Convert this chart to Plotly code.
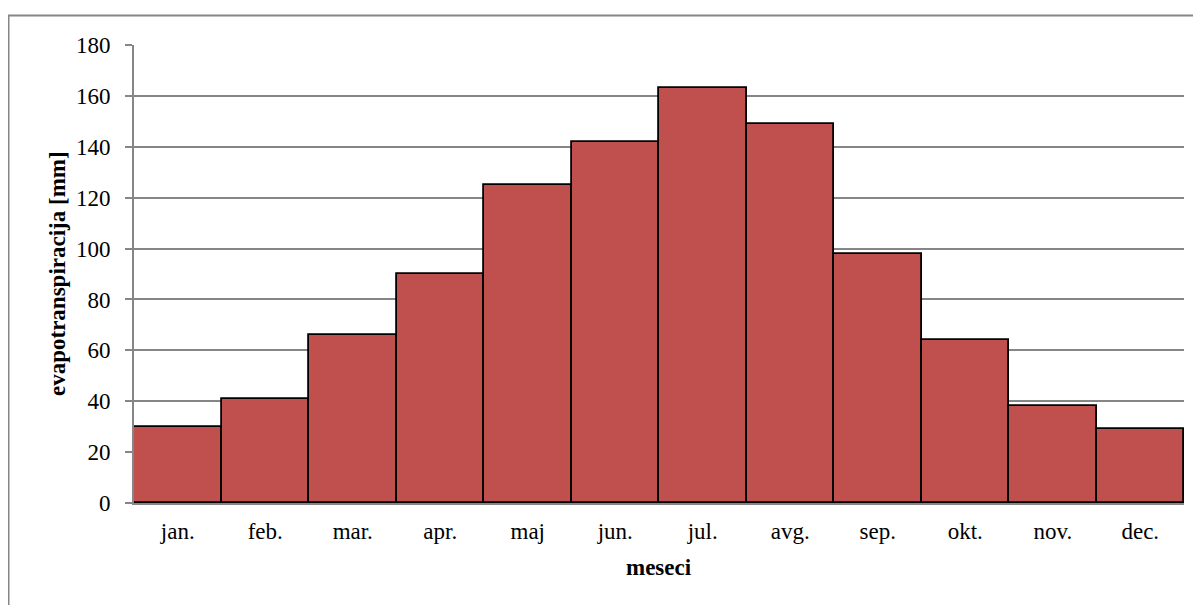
import plotly.graph_objects as go

months = ["jan.", "feb.", "mar.", "apr.", "maj", "jun.", "jul.", "avg.", "sep.", "okt.", "nov.", "dec."]
evapotranspiracija = [30, 41, 66, 90, 125, 142, 163, 149, 98, 64, 38, 29]
y_ticks = [0, 20, 40, 60, 80, 100, 120, 140, 160, 180]

FONT = "Liberation Serif, Times New Roman, serif"
GRID = "#868686"

# page is offset by the browser's 8px body margin
OFF = 8
W, H = 1201 - OFF, 605 - OFF
L, R, T, B = 134 - OFF, 1184 - OFF, 45 - OFF, 503 - OFF
pw, ph = R - L, B - T

fig = go.Figure(
    go.Bar(
        x=months,
        y=evapotranspiracija,
        marker=dict(color="#C0504D", line=dict(color="black", width=1.8)),
        width=1.0,
    )
)

fig.update_layout(
    width=W,
    height=H,
    margin=dict(l=L, r=W - R, t=T, b=H - B, pad=0),
    paper_bgcolor="white",
    plot_bgcolor="white",
    bargap=0,
    showlegend=False,
    font=dict(family=FONT, color="black", size=23),
    xaxis=dict(
        showgrid=False,
        showline=True,
        linecolor=GRID,
        linewidth=2,
        ticks="",
        tickfont=dict(size=23),
        ticklabelstandoff=6,
    ),
    yaxis=dict(
        range=[0, 180],
        tickvals=y_ticks,
        showgrid=True,
        gridcolor=GRID,
        gridwidth=1.5,
        showline=True,
        linecolor=GRID,
        linewidth=2,
        ticks="outside",
        ticklen=7,
        tickcolor=GRID,
        tickwidth=1.5,
        tickfont=dict(size=23),
        ticklabelstandoff=10,
        zeroline=False,
    ),
    annotations=[
        dict(
            text="<b>meseci</b>",
            xref="paper", yref="paper",
            x=0.5, y=-(567 - OFF - B) / ph,
            xanchor="center", yanchor="middle",
            showarrow=False,
            font=dict(size=23),
        ),
        dict(
            text="<b>evapotranspiracija [mm]</b>",
            xref="paper", yref="paper",
            x=(57 - OFF - L) / pw, y=0.5,
            xanchor="center", yanchor="middle",
            textangle=-90,
            showarrow=False,
            font=dict(size=23),
        ),
    ],
    shapes=[
        dict(
            type="rect",
            xref="paper",
            yref="paper",
            x0=(0.5 - L) / pw,
            x1=(W + 10 - L) / pw,
            y0=-(H + 10 - B) / ph,
            y1=1 + (T - 7.5) / ph,
            line=dict(color=GRID, width=2),
            layer="below",
        )
    ],
)

fig.write_html("out.html")
